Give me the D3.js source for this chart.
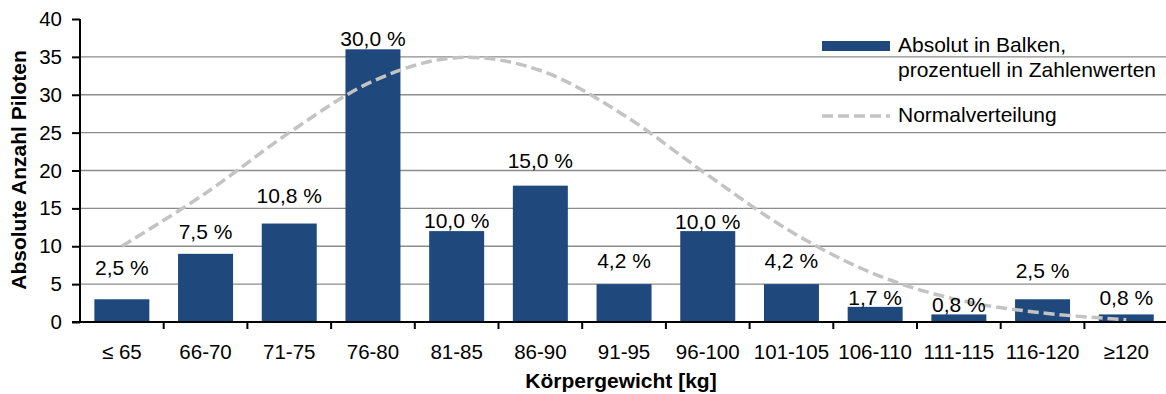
<!DOCTYPE html>
<html lang="de">
<head>
<meta charset="utf-8">
<script src="https://cdn.jsdelivr.net/npm/d3@7"></script>
<style>
  html, body { margin: 0; padding: 0; background: #fff; }
  svg { display: block; font-family: "Liberation Sans", Arial, sans-serif; }
</style>
</head>
<body>
<svg id="chart" width="1166" height="394"></svg>
<script>
// Weight classes of the pilots (x categories)
const categories = ["≤ 65", "66-70", "71-75", "76-80", "81-85", "86-90", "91-95",
                    "96-100", "101-105", "106-110", "111-115", "116-120", "≥120"];
// Absolute number of pilots per weight class
const counts = [3, 9, 13, 36, 12, 18, 5, 12, 5, 2, 1, 3, 1];
// Fitted normal distribution, evaluated at each class
const normalValues = [10.0, 17.0, 25.0, 31.8, 34.9, 33.2, 27.3, 19.4, 11.9, 6.3, 2.9, 1.2, 0.3];
// Y axis ticks
const yTicks = [0, 5, 10, 15, 20, 25, 30, 35, 40];

// Vertical gap (px) between bar top and its percentage label baseline
const labelLift = [24, 15, 21, 3, 3, 18, 16, 2, 16, 2, 2, 21, 9];

const total = d3.sum(counts);
const pctLabel = c => (c / total * 100).toFixed(1).replace(".", ",") + " %";

const svg = d3.select("#chart");
const plotLeft = 80, plotTop = 19, plotBottom = 322;
const step = 83.7;
const plotRight = plotLeft + step * categories.length;

const x = d3.scaleBand().domain(categories).range([plotLeft, plotRight])
  .paddingInner(0.343).paddingOuter(0.1715);
const y = d3.scaleLinear().domain([0, 40]).range([plotBottom, plotTop]);

const LABEL_FONT = 21;
const TICK_FONT = 20.5;

// Horizontal gridlines
svg.append("g").selectAll("line")
  .data(yTicks.filter(t => t > 0 && t < 40))
  .join("line")
  .attr("x1", plotLeft).attr("x2", 1166)
  .attr("y1", d => y(d)).attr("y2", d => y(d))
  .attr("stroke", "#8c8c8c").attr("stroke-width", 1.3);

// Bars
svg.append("g").selectAll("rect")
  .data(counts)
  .join("rect")
  .attr("x", (d, i) => x(categories[i]))
  .attr("width", x.bandwidth())
  .attr("y", d => y(d))
  .attr("height", d => y(0) - y(d))
  .attr("fill", "#1f497d");

// Normal distribution curve
const line = d3.line()
  .x((d, i) => x(categories[i]) + x.bandwidth() / 2)
  .y(d => y(d))
  .curve(d3.curveCatmullRom.alpha(0));
svg.append("path")
  .datum(normalValues)
  .attr("d", line)
  .attr("fill", "none")
  .attr("stroke", "#c3c3c3")
  .attr("stroke-width", 3.5)
  .attr("stroke-dasharray", "11 5");

// Percentage labels
svg.append("g").selectAll("text")
  .data(counts)
  .join("text")
  .attr("x", (d, i) => x(categories[i]) + x.bandwidth() / 2)
  .attr("y", (d, i) => y(d) - labelLift[i])
  .attr("text-anchor", "middle")
  .attr("font-size", LABEL_FONT)
  .attr("fill", "#000")
  .text(d => pctLabel(d));

// Y axis
const yAxis = d3.axisLeft(y).tickValues(yTicks).tickSize(8).tickPadding(10).tickFormat(d3.format("d"));
const gy = svg.append("g").attr("transform", `translate(${plotLeft},0)`).call(yAxis);
gy.select(".domain").attr("stroke", "#000").attr("stroke-width", 2).attr("d", `M0,${plotTop}V${plotBottom}`);
gy.selectAll(".tick line").attr("stroke", "#000").attr("stroke-width", 2);
gy.selectAll(".tick text").attr("font-size", TICK_FONT).attr("fill", "#000")
  .attr("font-family", "Liberation Sans, Arial, sans-serif");

// X axis
const xAxis = d3.axisBottom(x).tickSize(0).tickPadding(0);
const gx = svg.append("g").attr("transform", `translate(0,${plotBottom})`).call(xAxis);
gx.select(".domain").remove();
gx.append("line").attr("x1", plotLeft - 8).attr("x2", 1166).attr("y1", 0).attr("y2", 0)
  .attr("stroke", "#000").attr("stroke-width", 2);
gx.selectAll(".sep")
  .data(categories.slice(1))
  .join("line")
  .attr("class", "sep")
  .attr("x1", d => x(d) - x.step() * x.paddingInner() / 2)
  .attr("x2", d => x(d) - x.step() * x.paddingInner() / 2)
  .attr("y1", 0).attr("y2", 7)
  .attr("stroke", "#000").attr("stroke-width", 2);
gx.selectAll(".tick text")
  .attr("font-size", TICK_FONT).attr("fill", "#000")
  .attr("font-family", "Liberation Sans, Arial, sans-serif")
  .attr("dy", null).attr("y", 37);

// Axis titles
svg.append("text")
  .attr("x", 621).attr("y", 388)
  .attr("text-anchor", "middle")
  .attr("font-size", 21).attr("font-weight", "bold")
  .text("Körpergewicht [kg]");
svg.append("text")
  .attr("transform", "translate(26,170) rotate(-90)")
  .attr("text-anchor", "middle")
  .attr("font-size", 21).attr("font-weight", "bold")
  .text("Absolute Anzahl Piloten");

// Legend
const lg = svg.append("g");
lg.append("rect").attr("x", 822).attr("y", 41).attr("width", 68).attr("height", 10).attr("fill", "#1f497d");
lg.append("text").attr("x", 898).attr("y", 52).attr("font-size", LABEL_FONT).text("Absolut in Balken,");
lg.append("text").attr("x", 898).attr("y", 77).attr("font-size", LABEL_FONT).text("prozentuell in Zahlenwerten");
lg.append("line").attr("x1", 822).attr("x2", 890).attr("y1", 116).attr("y2", 116)
  .attr("stroke", "#c3c3c3").attr("stroke-width", 3.5).attr("stroke-dasharray", "11 5");
lg.append("text").attr("x", 898).attr("y", 122).attr("font-size", LABEL_FONT).text("Normalverteilung");
</script>
</body>
</html>
